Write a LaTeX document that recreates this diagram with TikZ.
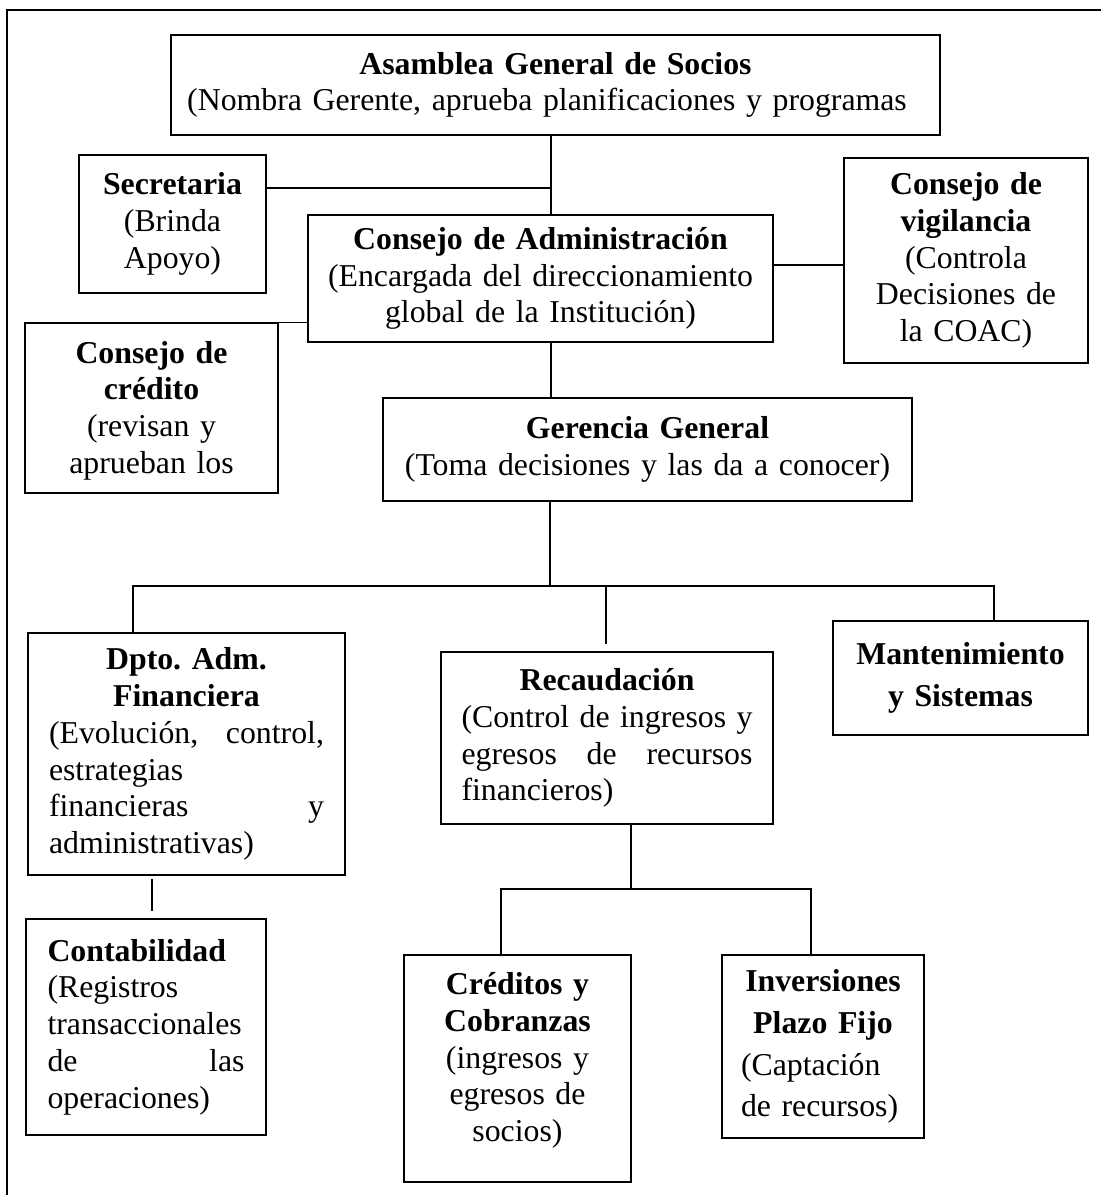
\documentclass[tikz,border=0pt]{standalone}
\usepackage{fontspec}
\setmainfont{Liberation Serif}
\newcommand{\chartfont}{\fontsize{15.9pt}{18.35pt}\selectfont\frenchspacing\hyphenpenalty=10000}

\begin{document}
\begin{tikzpicture}[x=0.5pt, y=-0.5pt,
        box/.style={draw, line width=0.8pt, inner sep=0pt},
        centered/.style={font=\chartfont, align=center},
        justified/.style={font=\chartfont},
        link/.style={line width=0.7pt}]
    \useasboundingbox (0,0) rectangle (1101,1195);

    % --- Frame ---
    \draw[line width=1.1pt] (7,1195) -- (7,10) -- (1101,10);

    % --- Upper level ---
    \node[box, centered, minimum width=384.5pt, minimum height=50pt, text width=376pt] (asamblea) at (555.5,85)
        {\textbf{Asamblea General de Socios}\\(Nombra Gerente, aprueba planificaciones y programas\kern8.5pt};
    \node[box, centered, minimum width=93.5pt, minimum height=69pt, text width=88pt] (secretaria) at (172.5,224)
        {\textbf{Secretaria}\\(Brinda\\Apoyo)};
    \node[box, centered, minimum width=232.5pt, minimum height=63.5pt, text width=226pt] (admin) at (540.5,278.5)
        {\textbf{Consejo de Administración}\\(Encargada del direccionamiento\\global de la Institución)};
    \node[box, centered, minimum width=122pt, minimum height=102.5pt, text width=114pt] (vigilancia) at (966,260.5)
        {\textbf{Consejo de\\vigilancia}\\(Controla\\Decisiones de\\la COAC)};
    \node[box, minimum width=126.5pt, minimum height=85pt] (credito) at (151.5,408) {};
    \begin{scope}
        \clip (25,323) rectangle (278,480);
        \node[centered, text width=120pt, inner sep=0pt] (creditotext) at (151.5,410.5)
            {\textbf{Consejo de\\crédito}\\(revisan y\\aprueban los};
    \end{scope}
    \node[box, centered, minimum width=264.5pt, minimum height=51.5pt, text width=258pt] (gerencia) at (647.5,449.5)
        {\textbf{Gerencia General}\\(Toma decisiones y las da a conocer)};

    % --- Lower level ---
    \node[box, justified, minimum width=158.5pt, minimum height=121pt, text width=137.5pt] (dpto) at (186.5,754)
        {{\centering\bfseries Dpto. Adm.\\Financiera\par}(Evolución,\hfill control,\\estrategias\\financieras\hfill y\\administrativas)};
    \node[box, justified, minimum width=166pt, minimum height=86pt, text width=145.5pt] (recaud) at (607,738)
        {{\centering\bfseries Recaudación\par}(Control\hfill de\hfill ingresos\hfill y\\egresos\hfill de\hfill recursos\\financieros)};
    \node[box, centered, minimum width=127.5pt, minimum height=57pt, text width=120pt] (mant) at (960.5,678)
        {\textbf{Mantenimiento\\[3pt]y Sistemas}};
    \node[box, justified, minimum width=120pt, minimum height=108pt, text width=98.5pt] (contab) at (146,1027)
        {{\bfseries Contabilidad\par}(Registros\\transaccionales\\de\hfill las\\operaciones)};
    \node[box, centered, minimum width=113.5pt, minimum height=113.5pt, text width=106pt] (creditos) at (517.5,1068.5)
        {\textbf{Créditos y\\Cobranzas}\\(ingresos y\\egresos de\\socios)\rule[-11.5pt]{0pt}{0pt}};
    \node[box, justified, minimum width=101pt, minimum height=91.5pt, text width=82pt] (inver) at (823,1046.5)
        {{\centering\bfseries Inversiones\\[2.5pt]Plazo Fijo\par}\vspace{2.5pt}(Captación\\[2.5pt]de recursos)};

    % --- Connectors ---
    \coordinate (trunk) at (551,0);
    \coordinate (secj) at (551,188);
    \coordinate (vigj) at (0,265);
    \draw[link] (asamblea.south -| trunk) -- (admin.north -| trunk);
    \draw[link] (secretaria.east |- secj) -- (secj);
    \draw[link] (admin.east |- vigj) -- (vigilancia.west |- vigj);
    \draw[link] (admin.west |- credito.north) -- (credito.north east);
    \draw[link] (admin.south -| trunk) -- (gerencia.north -| trunk);

    \coordinate (busa) at (550,586);
    \coordinate (busl) at (133,586);
    \coordinate (busm) at (606,586);
    \coordinate (busr) at (994,586);
    \draw[link] (gerencia.south -| busa) -- (busa);
    \draw[link] (dpto.north -| busl) -- (busl) -- (busr) -- (mant.north -| busr);
    \draw[link, shorten >=3.5pt] (busm) -- (recaud.north -| busm);

    \coordinate (ctb) at (152,0);
    \draw[link, shorten <=1.5pt, shorten >=3.5pt] (dpto.south -| ctb) -- (contab.north -| ctb);

    \coordinate (subm) at (631,889);
    \coordinate (subl) at (501,889);
    \coordinate (subr) at (811,889);
    \draw[link] (recaud.south -| subm) -- (subm);
    \draw[link] (creditos.north -| subl) -- (subl) -- (subr) -- (inver.north -| subr);
\end{tikzpicture}
\end{document}
